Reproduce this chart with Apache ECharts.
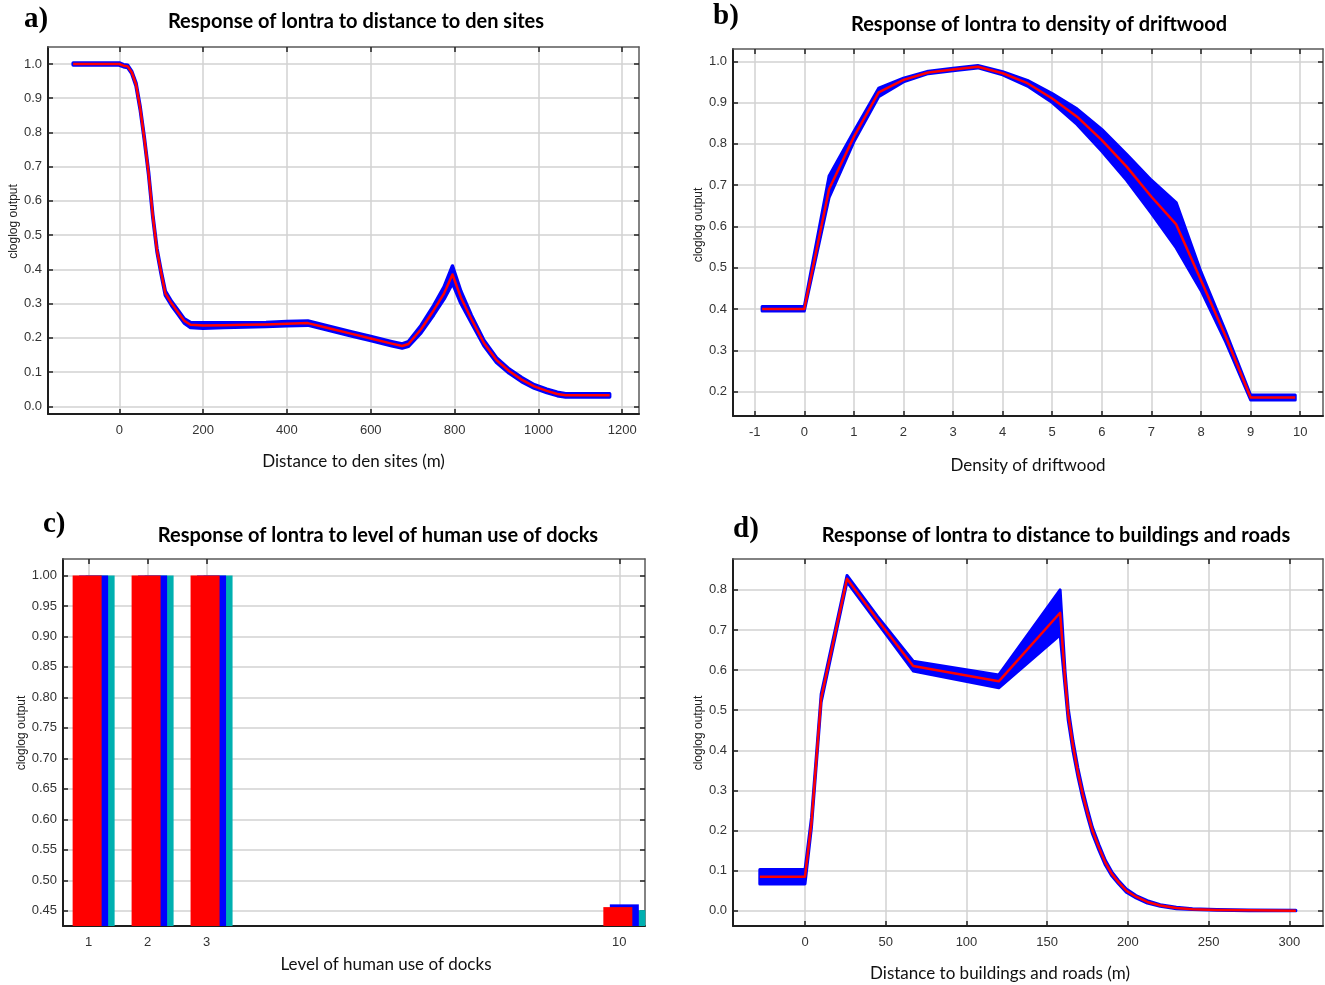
<!DOCTYPE html>
<html>
<head>
<meta charset="utf-8">
<title>Response curves of lontra</title>
<script src="https://cdn.jsdelivr.net/npm/echarts@6/dist/echarts.min.js"></script>
<style>
  html, body { margin: 0; padding: 0; background: #ffffff; }
  #chart { width: 1325px; height: 985px; }
</style>
</head>
<body>
<div id="chart"></div>
<script>
// a) distance to den sites (m)
const denX     = [-110, 0, 10, 20, 30, 40, 50, 60, 70, 80, 90, 100, 110, 125, 140, 155, 170, 200, 250, 300, 350, 400, 450, 500, 550, 600, 650, 675, 690, 720, 750, 775, 795, 815, 840, 870, 900, 930, 960, 990, 1020, 1045, 1065, 1170];
const denMean  = [1.0, 1.0, 0.995, 0.993, 0.975, 0.94, 0.87, 0.78, 0.68, 0.556, 0.456, 0.39, 0.33, 0.30, 0.275, 0.25, 0.238, 0.236, 0.237, 0.238, 0.239, 0.241, 0.243, 0.228, 0.213, 0.198, 0.183, 0.176, 0.182, 0.225, 0.28, 0.33, 0.385, 0.318, 0.255, 0.185, 0.135, 0.103, 0.078, 0.058, 0.045, 0.036, 0.032, 0.032];
const denUpper = [1.003, 1.003, 0.998, 0.996, 0.978, 0.944, 0.874, 0.784, 0.684, 0.56, 0.46, 0.395, 0.336, 0.306, 0.281, 0.256, 0.245, 0.244, 0.244, 0.244, 0.245, 0.248, 0.249, 0.234, 0.219, 0.204, 0.189, 0.182, 0.189, 0.236, 0.294, 0.349, 0.41, 0.336, 0.266, 0.193, 0.142, 0.109, 0.084, 0.063, 0.05, 0.041, 0.037, 0.037];
const denLower = [0.997, 0.997, 0.992, 0.99, 0.972, 0.936, 0.866, 0.776, 0.676, 0.552, 0.452, 0.385, 0.324, 0.294, 0.269, 0.243, 0.23, 0.228, 0.23, 0.232, 0.233, 0.235, 0.237, 0.222, 0.207, 0.192, 0.177, 0.17, 0.175, 0.215, 0.267, 0.314, 0.36, 0.301, 0.244, 0.177, 0.128, 0.097, 0.072, 0.053, 0.04, 0.031, 0.027, 0.027];
const denXTicks = [0, 200, 400, 600, 800, 1000, 1200];
const denYTicks = [0, 0.1, 0.2, 0.3, 0.4, 0.5, 0.6, 0.7, 0.8, 0.9, 1.0];

// b) density of driftwood
const woodX     = [-0.85, 0, 0.5, 1, 1.5, 2, 2.5, 3, 3.5, 4, 4.5, 5, 5.5, 6, 6.5, 7, 7.5, 8, 8.5, 9, 9.9];
const woodMean  = [0.40, 0.40, 0.69, 0.817, 0.925, 0.955, 0.973, 0.98, 0.987, 0.971, 0.947, 0.91, 0.866, 0.809, 0.745, 0.672, 0.605, 0.47, 0.333, 0.186, 0.186];
const woodUpper = [0.406, 0.406, 0.722, 0.83, 0.935, 0.959, 0.976, 0.983, 0.99, 0.975, 0.954, 0.922, 0.885, 0.835, 0.775, 0.712, 0.658, 0.49, 0.345, 0.192, 0.192];
const woodLower = [0.395, 0.395, 0.67, 0.805, 0.914, 0.95, 0.97, 0.977, 0.984, 0.967, 0.94, 0.9, 0.847, 0.782, 0.712, 0.632, 0.548, 0.445, 0.32, 0.18, 0.18];
const woodXTicks = [-1, 0, 1, 2, 3, 4, 5, 6, 7, 8, 9, 10];
const woodYTicks = [0.2, 0.3, 0.4, 0.5, 0.6, 0.7, 0.8, 0.9, 1.0];

// c) level of human use of docks
const dockLevels = [1, 2, 3, 10];
const dockMean   = [1.0, 1.0, 1.0, 0.456];
const dockUpper  = [1.0, 1.0, 1.0, 0.4605];
const dockLower  = [1.0, 1.0, 1.0, 0.451];
const dockYTicks = [0.45, 0.50, 0.55, 0.60, 0.65, 0.70, 0.75, 0.80, 0.85, 0.90, 0.95, 1.00];

// d) distance to buildings and roads (m)
const roadX     = [-28, 0, 4, 10, 26, 45, 67, 120, 158, 161, 163, 166, 169, 172, 175, 178, 182, 186, 190, 194, 199, 205, 212, 220, 230, 240, 255, 275, 304];
const roadMean  = [0.085, 0.085, 0.22, 0.53, 0.828, 0.725, 0.61, 0.572, 0.743, 0.58, 0.49, 0.41, 0.345, 0.29, 0.243, 0.2, 0.158, 0.12, 0.092, 0.072, 0.05, 0.035, 0.022, 0.013, 0.007, 0.004, 0.002, 0.001, 0.0];
const roadUpper = [0.103, 0.103, 0.232, 0.54, 0.836, 0.733, 0.622, 0.588, 0.80, 0.60, 0.505, 0.423, 0.356, 0.3, 0.252, 0.208, 0.165, 0.126, 0.097, 0.076, 0.054, 0.038, 0.025, 0.015, 0.009, 0.005, 0.003, 0.002, 0.001];
const roadLower = [0.067, 0.067, 0.208, 0.52, 0.82, 0.717, 0.598, 0.556, 0.688, 0.56, 0.475, 0.397, 0.334, 0.28, 0.234, 0.192, 0.151, 0.114, 0.087, 0.068, 0.046, 0.032, 0.019, 0.011, 0.005, 0.003, 0.001, 0.0, 0.0];
const roadXTicks = [0, 50, 100, 150, 200, 250, 300];
const roadYTicks = [0, 0.1, 0.2, 0.3, 0.4, 0.5, 0.6, 0.7, 0.8];

const RED = '#ff0000';
const BLUE = '#0000ff';
const CYAN = '#00b0b0';
const GRIDLINE = '#d2d2d2';
const FRAME_DARK = '#1e1e1e';
const FRAME_LIGHT = '#5a5a5a';
const TICK_FONT = '"Liberation Sans", Arial, sans-serif';
const NAME_FONT = 'Lato, "Open Sans", sans-serif';

const chart = echarts.init(document.getElementById('chart'), null, { renderer: 'canvas' });

const grids = [
  { left: 48,  top: 47,  width: 591, height: 367 },
  { left: 733, top: 49,  width: 590, height: 367 },
  { left: 63,  top: 559, width: 582, height: 367 },
  { left: 733, top: 559, width: 590, height: 367 }
];

function xAxisPair(gi, min, max, ticks, name, nameGap, namePad) {
  return [
    {
      type: 'value', gridIndex: gi, position: 'bottom', min: min, max: max,
      name: name, nameLocation: 'middle', nameGap: nameGap,
      nameTextStyle: { fontFamily: NAME_FONT, fontSize: 17, color: '#111', padding: namePad },
      axisLine: { show: true, onZero: false, lineStyle: { color: FRAME_DARK, width: 2 } },
      axisTick: { show: true, inside: true, length: 5, customValues: ticks, lineStyle: { color: '#222', width: 1.5 } },
      axisLabel: { show: true, customValues: ticks, margin: 10, color: '#333', fontSize: 13, fontFamily: TICK_FONT,
                   formatter: v => String(Math.round(v)) },
      splitLine: { show: true, lineStyle: { color: GRIDLINE, width: 1.5 } }
    },
    {
      type: 'value', gridIndex: gi, position: 'top', min: min, max: max,
      axisLine: { show: true, onZero: false, lineStyle: { color: FRAME_LIGHT, width: 1.5 } },
      axisTick: { show: true, inside: true, length: 5, customValues: ticks, lineStyle: { color: '#222', width: 1.5 } },
      axisLabel: { show: false },
      splitLine: { show: false }
    }
  ];
}

function yAxisPair(gi, min, max, ticks, digits, nameGap, namePad) {
  return [
    {
      type: 'value', gridIndex: gi, position: 'left', min: min, max: max,
      name: 'cloglog output', nameLocation: 'middle', nameRotate: 90, nameGap: nameGap,
      nameTextStyle: { fontFamily: TICK_FONT, fontSize: 12, color: '#222', padding: namePad },
      axisLine: { show: true, onZero: false, lineStyle: { color: FRAME_DARK, width: 2 } },
      axisTick: { show: true, inside: true, length: 5, customValues: ticks, lineStyle: { color: '#222', width: 1.5 } },
      axisLabel: { show: true, customValues: ticks, margin: 6, color: '#333', fontSize: 13, fontFamily: TICK_FONT,
                   formatter: v => v.toFixed(digits) },
      splitLine: { show: true, lineStyle: { color: GRIDLINE, width: 1.5 } }
    },
    {
      type: 'value', gridIndex: gi, position: 'right', min: min, max: max,
      axisLine: { show: true, onZero: false, lineStyle: { color: FRAME_LIGHT, width: 1.5 } },
      axisTick: { show: true, inside: true, length: 5, customValues: ticks, lineStyle: { color: '#222', width: 1.5 } },
      axisLabel: { show: false },
      splitLine: { show: false }
    }
  ];
}

// spread of the replicate runs, drawn as one filled polygon in data space
function bandSeries(axisIdx, xs, lo, hi, edge) {
  return {
    type: 'custom', xAxisIndex: axisIdx, yAxisIndex: axisIdx, clip: true, silent: true, z: 2,
    data: xs.map((x, i) => [x, lo[i], hi[i]]),
    encode: { x: 0, y: [1, 2] },
    renderItem: function (params, api) {
      if (params.dataIndex !== 0) return null;
      const top = xs.map((x, i) => api.coord([x, hi[i]]));
      const bottom = xs.map((x, i) => api.coord([x, lo[i]])).reverse();
      return {
        type: 'polygon',
        shape: { points: top.concat(bottom) },
        style: { fill: BLUE, stroke: BLUE, lineWidth: edge, lineJoin: 'round' }
      };
    }
  };
}

function meanSeries(axisIdx, xs, ys) {
  return {
    type: 'line', xAxisIndex: axisIdx, yAxisIndex: axisIdx, clip: true, silent: true, z: 3,
    data: xs.map((x, i) => [x, ys[i]]),
    symbol: 'none', showSymbol: false,
    lineStyle: { color: RED, width: 2.5, join: 'round' }
  };
}

// bars for the categorical response; the empty spacer column shifts the group right of each level
const BAR_GAP = '-77.6%';
function barSeries(name, values, color, width, z) {
  return {
    type: 'bar', name: name, xAxisIndex: 4, yAxisIndex: 4, silent: true, z: z,
    barWidth: width, barGap: BAR_GAP,
    data: dockLevels.map((x, i) => [x, values ? values[i] : null]),
    itemStyle: { color: color, borderWidth: 0 }
  };
}

const xAxes = [].concat(
  xAxisPair(0, -170, 1240, denXTicks, 'Distance to den sites (m)', 39, [0, 0, 0, 20]),
  xAxisPair(1, -1.437, 10.46, woodXTicks, 'Density of driftwood', 41, 0),
  xAxisPair(2, 0.566, 10.436, dockLevels, 'Level of human use of docks', 30, [0, 0, 0, 64]),
  xAxisPair(3, -44.6, 320.8, roadXTicks, 'Distance to buildings and roads (m)', 39, [0, 56, 0, 0])
);
const yAxes = [].concat(
  yAxisPair(0, -0.0225, 1.0496, denYTicks, 1, 26, [0, 0, 0, 18]),
  yAxisPair(1, 0.141, 1.0298, woodYTicks, 1, 26, [0, 0, 0, 15]),
  yAxisPair(2, 0.425, 1.027, dockYTicks, 2, 34, [0, 0, 0, 19]),
  yAxisPair(3, -0.038, 0.877, roadYTicks, 1, 25, [0, 0, 0, 19])
);

function heading(text, x, y) {
  return { type: 'text', x: x, y: y, silent: true,
    style: { text: text, fill: '#000', font: 'bold 20px ' + NAME_FONT,
             align: 'center', verticalAlign: 'middle', textAlign: 'center', textVerticalAlign: 'middle' } };
}
function panelTag(text, x, y) {
  return { type: 'text', x: x, y: y, silent: true,
    style: { text: text, fill: '#000', font: 'bold 29px "Liberation Serif", "Times New Roman", serif',
             align: 'left', verticalAlign: 'middle', textAlign: 'left', textVerticalAlign: 'middle' } };
}

chart.setOption({
  animation: false,
  backgroundColor: '#ffffff',
  grid: grids.map(g => Object.assign({ containLabel: false, outerBoundsMode: 'none' }, g)),
  xAxis: xAxes,
  yAxis: yAxes,
  graphic: [
    heading('Response of lontra to distance to den sites', 356, 22),
    heading('Response of lontra to density of driftwood', 1039, 25),
    heading('Response of lontra to level of human use of docks', 378, 536),
    heading('Response of lontra to distance to buildings and roads', 1056, 536),
    panelTag('a)', 24, 20),
    panelTag('b)', 713, 17),
    panelTag('c)', 43, 525),
    panelTag('d)', 733, 530)
  ],
  series: [
    bandSeries(0, denX, denLower, denUpper, 3.5),
    meanSeries(0, denX, denMean),
    bandSeries(2, woodX, woodLower, woodUpper, 3),
    meanSeries(2, woodX, woodMean),
    barSeries('spacer', null, 'rgba(0,0,0,0)', 45, 1),
    barSeries('mean', dockMean, RED, 29, 5),
    barSeries('mean + sd', dockUpper, BLUE, 29, 4),
    barSeries('mean - sd', dockLower, CYAN, 29, 3),
    bandSeries(6, roadX, roadLower, roadUpper, 3),
    meanSeries(6, roadX, roadMean)
  ]
});
</script>
</body>
</html>
